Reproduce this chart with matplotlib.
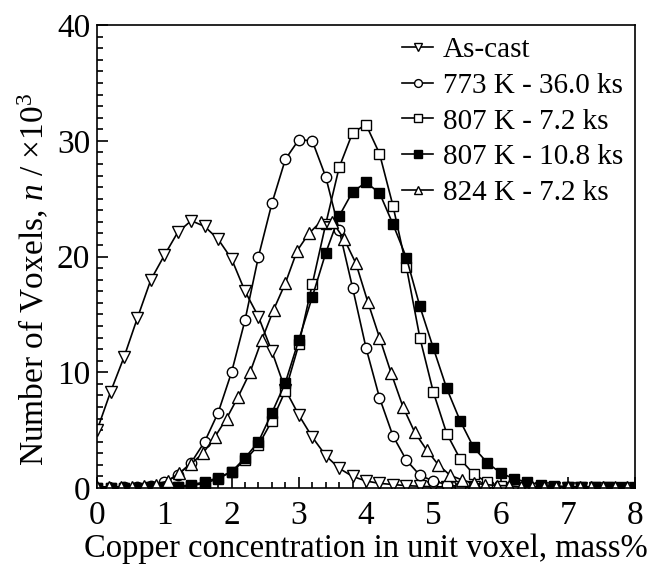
import numpy as np
import matplotlib
matplotlib.use('Agg')
import matplotlib.pyplot as plt
from matplotlib.ticker import MultipleLocator

plt.rcParams['font.family'] = 'Liberation Serif'
plt.rcParams['mathtext.fontset'] = 'custom'
plt.rcParams['mathtext.rm'] = 'Liberation Serif'
plt.rcParams['mathtext.it'] = 'Liberation Serif:italic'

# concentracao (mass%), passo 0.2 para quatro series
x_02 = np.round(np.arange(0, 8.01, 0.2), 2)
# a serie 824 K parece ter passo 0.175
x_0175 = np.round(np.arange(0, 7.9, 0.175), 3)

as_cast = [5.0, 8.3, 11.3, 14.7, 18.0, 20.1, 22.1, 23.1, 22.6, 21.5,
           19.8, 17.0, 14.8, 11.8, 8.5, 6.3, 4.4, 2.8, 1.7, 1.0,
           0.6, 0.4, 0.3, 0.2, 0.15, 0.1, 0.1, 0.05, 0.05, 0.0,
           0.0, 0.0, 0.0, 0.0, 0.0, 0.0, 0.0, 0.0, 0.0, 0.0, 0.0]

k773_36 = [0.0, 0.0, 0.05, 0.1, 0.2, 0.5, 1.1, 2.2, 4.0, 6.5,
           10.0, 14.5, 20.0, 24.6, 28.4, 30.1, 30.0, 26.9, 22.3, 17.3,
           12.1, 7.8, 4.5, 2.4, 1.1, 0.6, 0.3, 0.1, 0.05, 0.0,
           0.0, 0.0, 0.0, 0.0, 0.0, 0.0, 0.0, 0.0, 0.0, 0.0, 0.0]

k807_72 = [0.0, 0.0, 0.0, 0.0, 0.05, 0.05, 0.1, 0.3, 0.5, 0.9,
           1.4, 2.4, 3.7, 5.8, 8.4, 12.4, 17.6, 22.8, 27.7, 30.7,
           31.4, 28.9, 24.4, 19.1, 13.0, 8.3, 4.7, 2.5, 1.2, 0.5,
           0.2, 0.1, 0.05, 0.0, 0.0, 0.0, 0.0, 0.0, 0.0, 0.0, 0.0]

k807_108 = [0.0, 0.0, 0.0, 0.0, 0.05, 0.05, 0.1, 0.2, 0.4, 0.8,
            1.4, 2.6, 4.0, 6.5, 9.1, 12.8, 16.5, 20.3, 23.5, 25.6,
            26.4, 25.5, 22.8, 19.9, 15.7, 12.1, 8.6, 5.8, 3.5, 2.2,
            1.3, 0.8, 0.5, 0.3, 0.2, 0.1, 0.1, 0.05, 0.05, 0.0, 0.0]

k824_72 = [0.1, 0.1, 0.1, 0.1, 0.2, 0.3, 0.6, 1.3, 2.1, 3.0,
           4.4, 6.0, 7.9, 10.0, 12.8, 15.4, 17.7, 20.5, 22.0, 23.0,
           23.0, 21.5, 19.4, 16.1, 13.0, 9.9, 7.0, 4.8, 3.3, 2.0,
           1.1, 0.7, 0.4, 0.3, 0.2, 0.2, 0.1, 0.1, 0.1, 0.1,
           0.1, 0.1, 0.1, 0.1, 0.1, 0.1]

fig = plt.figure(figsize=(6.56, 5.71), dpi=100)
ax = fig.add_axes([0.148, 0.1454, 0.82, 0.8106])

ms = 7.5
ax.plot(x_02, as_cast, '-v', color='k', mfc='white', mec='k', ms=ms + 1, lw=1.2, mew=1, label='As-cast')
ax.plot(x_02, k773_36, '-o', color='k', mfc='white', mec='k', ms=ms, lw=1.2, mew=1, label='773 K - 36.0 ks')
ax.plot(x_02, k807_72, '-s', color='k', mfc='white', mec='k', ms=ms - 0.5, lw=1.2, mew=1, label='807 K - 7.2 ks')
ax.plot(x_02, k807_108, '-s', color='k', mfc='k', mec='k', ms=ms - 0.5, lw=1.2, mew=1, label='807 K - 10.8 ks')
ax.plot(x_0175[:len(k824_72)], k824_72, '-^', color='k', mfc='white', mec='k', ms=ms + 1, lw=1.2, mew=1, label='824 K - 7.2 ks')

ax.set_xlim(0, 8)
ax.set_ylim(0, 40)
ax.xaxis.set_major_locator(MultipleLocator(1))
ax.xaxis.set_minor_locator(MultipleLocator(0.2))
ax.yaxis.set_major_locator(MultipleLocator(10))
ax.yaxis.set_minor_locator(MultipleLocator(1))
ax.tick_params(which='both', direction='in', top=False, right=False, width=1.2)
ax.tick_params(which='major', length=8, labelsize=24, pad=5)
ax.tick_params(axis='x', which='major', pad=9)
ax.tick_params(which='minor', length=4.5)
for s in ax.spines.values():
    s.set_linewidth(1.2)

ax.set_xlabel('Copper concentration in unit voxel, mass%', fontsize=23.5, labelpad=2)
ax.set_ylabel(r'Number of Voxels, $n$ / $\times$10$^3$', fontsize=24)
ax.yaxis.set_label_coords(-0.085, 0.45)

leg = ax.legend(loc='upper right', frameon=False, fontsize=21, handlelength=1.05,
                handletextpad=0.35, labelspacing=0.32, markerscale=0.75,
                borderaxespad=0.0, bbox_to_anchor=(1.0, 1.0))

fig.savefig('out.png', dpi=100)
